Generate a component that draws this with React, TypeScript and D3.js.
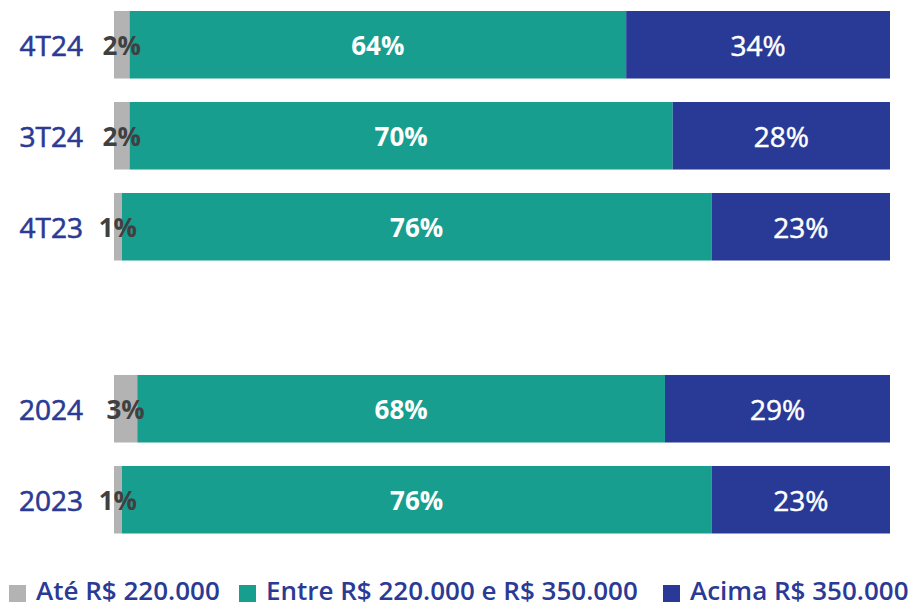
import React from "react";
import * as d3 from "d3";

const categories = ["4T24", "3T24", "4T23", "", "2024", "2023"];
const ateValues = [2, 2, 1, null, 3, 1];
const entreValues = [64, 70, 76, null, 68, 76];
const acimaValues = [34, 28, 23, null, 29, 23];
const seriesNames = ["Até R$ 220.000", "Entre R$ 220.000 e R$ 350.000", "Acima R$ 350.000"];
const colors = ["#b3b3b3", "#179e8f", "#283a96"];

const W = 917;
const H = 608;
const FONT = "'Open Sans', sans-serif";

export default function App() {
  const x = d3.scaleLinear().domain([0, 100]).range([114, 890]);
  const y = d3
    .scaleBand<string>()
    .domain(categories.map((c, i) => c || "gap" + i))
    .range([11, 533.5])
    .paddingInner(0.258)
    .paddingOuter(0);

  const rows = categories
    .map((c, i) => ({ key: c || "gap" + i, label: c, vals: [ateValues[i], entreValues[i], acimaValues[i]] }))
    .filter((r) => r.label);

  const legendX = [9, 239, 663];

  return (
    <svg width={W} height={H} style={{ position: "absolute", left: 0, top: 0 }}>
      <rect width={W} height={H} fill="#fff" />
      {rows.map((r) => {
        const y0 = y(r.key)!;
        const bh = y.bandwidth();
        let cum = 0;
        const segs = r.vals.map((v, j) => {
          const start = cum;
          cum += v as number;
          return { start, end: cum, v: v as number, j };
        });
        return (
          <g key={r.key}>
            <text
              x={83}
              y={y0 + bh / 2}
              textAnchor="end"
              dominantBaseline="central"
              fontFamily={FONT}
              fontSize={28}
              fill="#2b3a94"
              stroke="#2b3a94"
              strokeWidth={0.6}
            >
              {r.label}
            </text>
            {segs.map((s) => (
              <rect
                key={s.j}
                x={x(s.start)}
                y={y0}
                width={x(s.end) - x(s.start)}
                height={bh}
                fill={colors[s.j]}
              />
            ))}
            {segs.map((s) => (
              <text
                key={"t" + s.j}
                x={(x(s.start) + x(Math.min(s.end, 100))) / 2}
                y={y0 + bh / 2}
                textAnchor="middle"
                dominantBaseline="central"
                fontFamily={FONT}
                fontSize={s.j === 2 ? 28 : 26}
                fontWeight={s.j === 2 ? 400 : 700}
                fill={s.j === 0 ? "#404040" : "#ffffff"}
                stroke={s.j === 2 ? "#ffffff" : "none"}
                strokeWidth={0.5}
              >
                {s.v}%
              </text>
            ))}
          </g>
        );
      })}
      {seriesNames.map((n, i) => (
        <g key={n}>
          <rect x={legendX[i]} y={585} width={17} height={17} fill={colors[i]} />
          <text
            x={legendX[i] + 27}
            y={600}
            fontFamily={FONT}
            fontSize={26}
            fontWeight={600}
            fill="#2b3a94"
          >
            {n}
          </text>
        </g>
      ))}
    </svg>
  );
}
